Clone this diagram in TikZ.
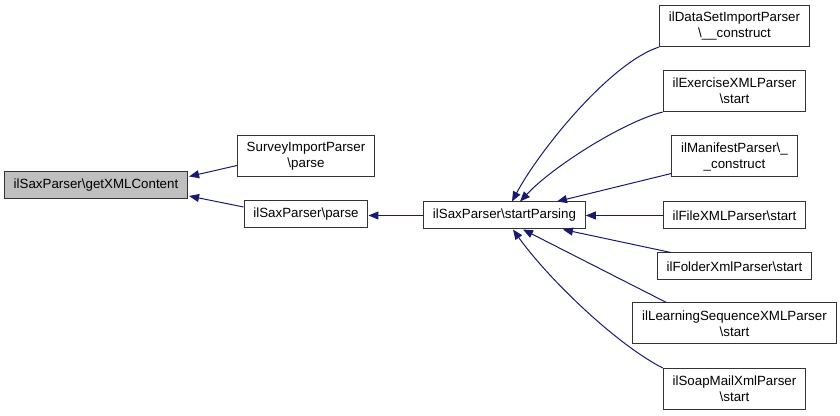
\documentclass[tikz,border=0pt]{standalone}
\usepackage{fontspec}
\setmainfont{Liberation Sans}
\usetikzlibrary{arrows.meta, calc}
\definecolor{edgeblue}{RGB}{25,25,112}
\tikzset{%
    fn box/.style={%
        draw=black!80,
        line width=0.75pt,
        fill=white,
        align=center,
        font=\fontsize{10}{12}\selectfont,
        inner xsep=7pt,
        inner ysep=2pt,
        minimum height=20.25pt
    },
    fn tall/.style={fn box, minimum height=30.75pt},
    fn current/.style={fn box, fill=black!25},
    call edge/.style={%
        draw=edgeblue,
        line width=0.75pt,
        -{Triangle[length=7.5pt, width=6pt]}
    }%
}

\begin{document}
\begin{tikzpicture}[x=0.75pt, y=-0.75pt]
\useasboundingbox (0,0) rectangle (840,416);

% callees
\node[fn current] (gxml) at (96,185.5) {ilSaxParser\textbackslash getXMLContent};
\node[fn tall] (survey) at (306,156.5) {SurveyImportParser\\\textbackslash parse};
\node[fn box] (parse) at (306,214.5) {ilSaxParser\textbackslash parse};
\node[fn box] (startp) at (504.5,215.5) {ilSaxParser\textbackslash startParsing};

% callers of startParsing
\node[fn tall] (dataset) at (734.5,26) {ilDataSetImportParser\\\textbackslash\_\_construct};
\node[fn tall] (exercise) at (734.5,91) {ilExerciseXMLParser\\\textbackslash start};
\node[fn tall] (manifest) at (734.5,156.5) {ilManifestParser\textbackslash\_\\\_construct};
\node[fn box] (filexml) at (734.5,215.5) {ilFileXMLParser\textbackslash start};
\node[fn box] (folder) at (734.5,266.5) {ilFolderXmlParser\textbackslash start};
\node[fn tall] (learning) at (734.5,323.5) {ilLearningSequenceXMLParser\\\textbackslash start};
\node[fn tall] (soap) at (734.5,389) {ilSoapMailXmlParser\\\textbackslash start};

\draw[call edge] ($(survey.west)+(0,9)$) -- ($(gxml.east)+(1,-9)$);
\draw[call edge] ($(parse.west)+(0,-7.5)$) -- ($(gxml.east)+(1,10.5)$);
\draw[call edge] (startp.west) -- (startp.west -| parse.east);

\draw[call edge] (dataset.south west) .. controls +(-49,16) and +(28,-52) .. ($(startp.north)+(7.5,0)$);
\draw[call edge] (exercise.south west) .. controls +(-37,9) and +(35,-37) .. ($(startp.north)+(15.5,0)$);
\draw[call edge] ($(manifest.south west)+(0,-4)$) -- ($(startp.north)+(52.5,0)$);
\draw[call edge] (filexml.west) -- (startp.east);
\draw[call edge] ($(folder.north west)+(14,0)$) -- ($(startp.south)+(58.5,0)$);
\draw[call edge] ($(learning.north west)+(34,0)$) -- ($(startp.south)+(18.5,0)$);
\draw[call edge] (soap.north west) .. controls +(-47,-24) and +(35,49) .. ($(startp.south)+(8.5,0)$);
\end{tikzpicture}
\end{document}
